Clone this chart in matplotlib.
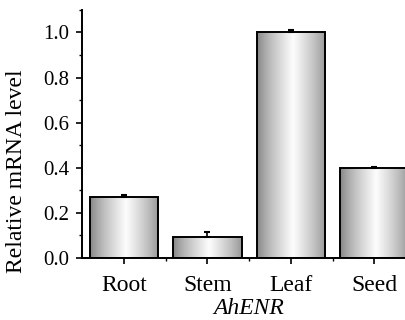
import matplotlib.pyplot as plt
from matplotlib.ticker import FixedLocator, MultipleLocator
import numpy as np

plt.rcParams['font.family'] = ['Liberation Serif', 'DejaVu Serif']

tecidos = ['Root', 'Stem', 'Leaf', 'Seed']
nivel = [0.272, 0.094, 1.0, 0.398]
erro = [0.008, 0.022, 0.01, 0.005]

fig = plt.figure(figsize=(4.06, 3.2), dpi=100)
ax = fig.add_axes([0.202, 0.194, 0.823, 0.775])

x = np.arange(1, len(tecidos) + 1)
barras = ax.bar(x, nivel, width=0.82, color='none', edgecolor='black',
                linewidth=1.4, zorder=3)
ax.errorbar(x, nivel, yerr=[np.zeros(len(erro)), erro], fmt='none',
            ecolor='black', elinewidth=1.2, capsize=2.5, capthick=1.5, zorder=4)

# gradiente horizontal dentro de cada barra
t = np.linspace(0, 1, 256)
perfil = 0.55 + 0.44 * (1 - np.abs(2 * t - 1.05).clip(0, 1)) ** 0.8
grad = perfil[np.newaxis, :]
for b in barras:
    x0, y0 = b.get_x(), b.get_y()
    im = ax.imshow(grad, cmap='gray', vmin=0, vmax=1, aspect='auto',
                   extent=[x0, x0 + b.get_width(), y0, y0 + b.get_height()],
                   zorder=2, interpolation='bilinear')
    im.set_clip_path(b)

ax.set_xlim(0.5, 4.5)
ax.set_ylim(0, 1.1)
ax.set_xticks(x)
ax.set_xticklabels(tecidos, fontsize=17)
ax.xaxis.set_minor_locator(FixedLocator([1.5, 2.5, 3.5]))
ax.set_yticks([0.0, 0.2, 0.4, 0.6, 0.8, 1.0])
ax.set_yticklabels(['0.0', '0.2', '0.4', '0.6', '0.8', '1.0'], fontsize=15)
ax.yaxis.set_minor_locator(MultipleLocator(0.1))
ax.tick_params(which='major', direction='out', length=4, width=1.2)
ax.tick_params(which='minor', direction='out', length=2.5, width=1.0)
ax.tick_params(axis='y', pad=5)
ax.tick_params(axis='x', pad=8)

for lado in ['top', 'right']:
    ax.spines[lado].set_visible(False)
for lado in ['left', 'bottom']:
    ax.spines[lado].set_linewidth(1.4)

ax.set_ylabel('Relative mRNA level', fontsize=17)
ax.yaxis.set_label_coords(-0.165, 0.35)
ax.set_xlabel('AhENR', fontsize=17, style='italic', labelpad=2)

fig.savefig('out.png', dpi=100)
